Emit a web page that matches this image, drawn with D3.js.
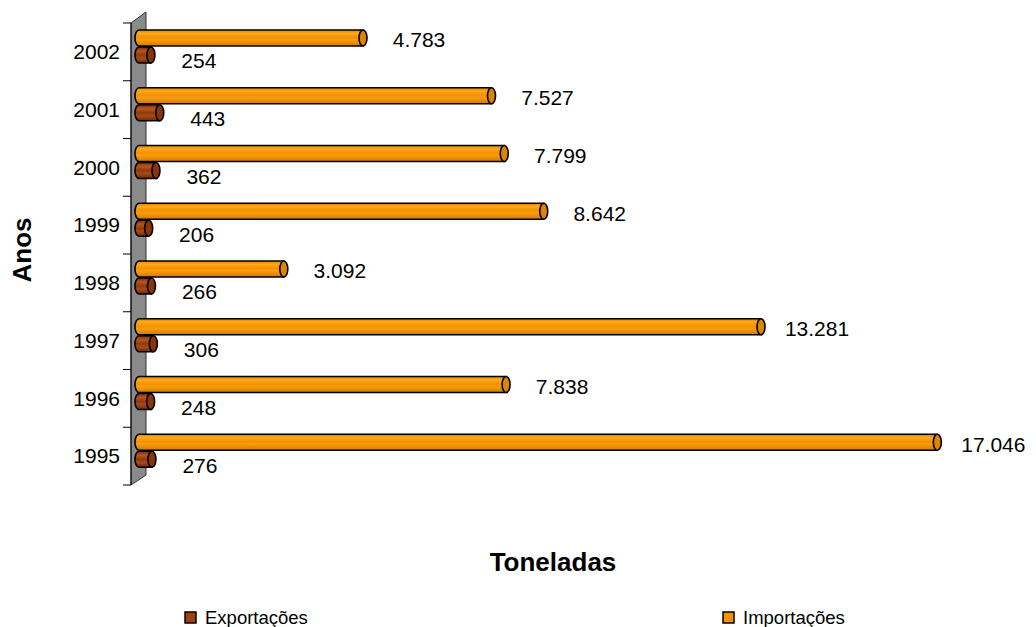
<!DOCTYPE html>
<html>
<head>
<meta charset="utf-8">
<script src="https://cdn.jsdelivr.net/npm/d3@7"></script>
<style>
  body { margin: 0; background: #fff; }
  svg { font-family: "Liberation Sans", Arial, sans-serif; }
</style>
</head>
<body>
<svg id="chart" width="1036" height="627"></svg>
<script>
// data
var years = ["2002", "2001", "2000", "1999", "1998", "1997", "1996", "1995"];
var exportacoes = [254, 443, 362, 206, 266, 306, 248, 276];
var importacoes = [4783, 7527, 7799, 8642, 3092, 13281, 7838, 17046];
var seriesNames = ["Exportações", "Importações"];

var svg = d3.select("#chart");
var defs = svg.append("defs");

var fmt = d3.formatLocale({decimal: ",", thousands: ".", grouping: [3], currency: ["", ""]}).format(",d");

var x = d3.scaleLinear().domain([0, 18000]).range([139, 982]);
var y = d3.scaleBand().domain(years).range([23, 485]);

// gradients for the cylinders
function cylGrad(id, stops) {
	var g = defs.append("linearGradient").attr("id", id)
		.attr("x1", 0).attr("y1", 0).attr("x2", 0).attr("y2", 1);
	stops.forEach(function(s) {
		g.append("stop").attr("offset", s[0]).attr("stop-color", s[1]);
	});
}
cylGrad("gOrange", [[0, "#d98300"], [0.2, "#ffaa1c"], [0.45, "#f29200"], [0.62, "#fb9c0c"], [1, "#cf7a00"]]);
cylGrad("gBrown", [[0, "#7a2e08"], [0.25, "#b8561f"], [0.5, "#8f3a0c"], [0.7, "#a84a17"], [1, "#6e2805"]]);

// wall behind the category axis
var wl = x(0) - 8, wr = x(0) + 7;
var yTop = y.range()[0], yBot = y.range()[1];
svg.append("path")
	.attr("d", "M" + wl + "," + yTop + "L" + wr + "," + (yTop - 11) + "L" + wr + "," + (yBot - 10) +
		"L" + wl + "," + yBot + "Z")
	.attr("fill", "#8a8a8a")
	.attr("stroke", "#333")
	.attr("stroke-width", 1);

// axis line and ticks at band boundaries
var bounds = years.map(function(d) { return y(d); }).concat([yBot]);
svg.append("line")
	.attr("x1", wl).attr("x2", wl).attr("y1", yTop).attr("y2", yBot)
	.attr("stroke", "#000");
svg.selectAll(".tick").data(bounds).enter().append("line")
	.attr("x1", wl - 8).attr("x2", wl)
	.attr("y1", function(d) { return d; }).attr("y2", function(d) { return d; })
	.attr("stroke", "#000");

svg.selectAll(".ylab").data(years).enter().append("text")
	.attr("x", 120)
	.attr("y", function(d) { return y(d) + y.bandwidth() / 2; })
	.attr("dy", "0.35em")
	.attr("text-anchor", "end")
	.style("font-size", "21px")
	.text(function(d) { return d; });

function cylinder(g, x1, top, h, fill, capFill) {
	var rx = 4, ry = h / 2;
	var xl = x(0);
	g.append("path")
		.attr("d", "M" + xl + "," + top + "L" + x1 + "," + top + "L" + x1 + "," + (top + h) +
			"L" + xl + "," + (top + h) + "A" + rx + "," + ry + " 0 0 1 " + xl + "," + top + "Z")
		.attr("fill", fill)
		.attr("stroke", "#000")
		.attr("stroke-width", 1.6);
	g.append("ellipse")
		.attr("cx", x1).attr("cy", top + ry)
		.attr("rx", rx).attr("ry", ry)
		.attr("fill", capFill)
		.attr("stroke", "#000")
		.attr("stroke-width", 1.6);
}

var bars = svg.append("g");
years.forEach(function(yr, i) {
	var b = y(yr);
	cylinder(bars, x(importacoes[i]), b + 7, 16, "url(#gOrange)", "#dc8500");
	cylinder(bars, x(exportacoes[i]), b + 24, 16, "url(#gBrown)", "#8a3508");
});

// value labels
svg.selectAll(".limp").data(importacoes).enter().append("text")
	.attr("x", function(d) { return x(d) + 56; })
	.attr("y", function(d, i) { return y(years[i]) + 7 + 8 + 2; })
	.attr("dy", "0.35em")
	.attr("text-anchor", "middle")
	.style("font-size", "21px")
	.text(function(d) { return fmt(d); });

svg.selectAll(".lexp").data(exportacoes).enter().append("text")
	.attr("x", function(d) { return x(d) + 48; })
	.attr("y", function(d, i) { return y(years[i]) + 24 + 8 + 6; })
	.attr("dy", "0.35em")
	.attr("text-anchor", "middle")
	.style("font-size", "21px")
	.text(function(d) { return fmt(d); });

// axis titles
svg.append("text")
	.attr("transform", "translate(31,250) rotate(-90)")
	.attr("text-anchor", "middle")
	.style("font-size", "26px")
	.style("font-weight", "bold")
	.text("Anos");

svg.append("text")
	.attr("x", 553).attr("y", 571)
	.attr("text-anchor", "middle")
	.style("font-size", "26px")
	.style("font-weight", "bold")
	.text("Toneladas");

// legend
var legendX = [185, 723];
var legendCol = ["#a0400c", "#f29200"];
var leg = svg.selectAll(".leg").data(seriesNames).enter().append("g")
	.attr("transform", function(d, i) { return "translate(" + legendX[i] + ",612)"; });
leg.append("rect")
	.attr("width", 11).attr("height", 11)
	.attr("fill", function(d, i) { return legendCol[i]; })
	.attr("stroke", "#000").attr("stroke-width", 1.5);
leg.append("text")
	.attr("x", 20).attr("y", 6)
	.attr("dy", "0.35em")
	.style("font-size", "18.5px")
	.text(function(d) { return d; });
</script>
</body>
</html>
